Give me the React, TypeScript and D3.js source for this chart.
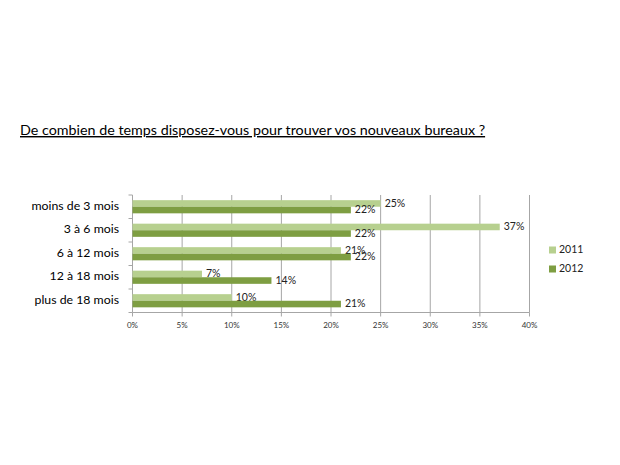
import * as React from 'react'
import * as d3 from 'd3'

const categories = ['moins de 3 mois', '3 à 6 mois', '6 à 12 mois', '12 à 18 mois', 'plus de 18 mois']
const series = ['2011', '2012']
const values2011 = [25, 37, 21, 7, 10]
const values2012 = [22, 22, 22, 14, 21]
const xTicks = [0, 5, 10, 15, 20, 25, 30, 35, 40]
const colors = ['#b7d08f', '#7e9e42']

const FONT = 'Lato, "Open Sans", sans-serif'

export default function App() {
    const W = 620
    const H = 465
    const left = 132.5
    const right = 529.5
    const top = 195
    const bottom = 312.5

    const x = d3.scaleLinear().domain([0, 40]).range([left, right])
    const y = d3.scaleBand().domain(categories).range([top, bottom]).paddingInner(0.44).paddingOuter(0.22)
    const ySeries = d3.scaleBand().domain(series).range([0, y.bandwidth()])
    const data = [values2011, values2012]

    return <svg width={W} height={H} viewBox={`0 0 ${W} ${H}`} style={{ position: 'absolute', left: 0, top: 0, background: '#fff' }} fontFamily={FONT}>
        <text x={20} y={135} fontSize={14.3} fill="#000" textDecoration="underline">De combien de temps disposez-vous pour trouver vos nouveaux bureaux ?</text>

        {/* gridlines */}
        {xTicks.slice(1).map(t =>
            <line key={t} x1={x(t)} x2={x(t)} y1={top} y2={bottom} stroke="#a6a6a6" strokeWidth={1} />
        )}
        {/* axes */}
        <line x1={left} x2={left} y1={top} y2={bottom} stroke="#a6a6a6" />
        <line x1={left} x2={right} y1={bottom} y2={bottom} stroke="#a6a6a6" />
        {xTicks.map(t =>
            <g key={t}>
                <line x1={x(t)} x2={x(t)} y1={bottom} y2={bottom + 4} stroke="#a6a6a6" />
                <text x={x(t)} y={bottom + 15} fontSize={8} textAnchor="middle" fill="#333">{t}%</text>
            </g>
        )}
        {d3.range(categories.length + 1).map(i => {
            const yy = top + i * (bottom - top) / categories.length
            return <line key={i} x1={left - 4} x2={left} y1={yy} y2={yy} stroke="#a6a6a6" />
        })}

        {/* category labels */}
        {categories.map(c =>
            <text key={c} x={119} y={(y(c) as number) + y.bandwidth() / 2} fontSize={12.3} textAnchor="end" dominantBaseline="middle" fill="#000">{c}</text>
        )}

        {/* bars */}
        {categories.map((c, i) =>
            <g key={c} transform={`translate(0 ${y(c)})`}>
                {series.map((s, j) =>
                    <g key={s}>
                        <rect x={left} y={ySeries(s) as number} width={x(data[j][i]) - left} height={ySeries.bandwidth()} fill={colors[j]} />
                        <text x={x(data[j][i]) + 4} y={(ySeries(s) as number) + ySeries.bandwidth() / 2 + 0.5} fontSize={10.5} dominantBaseline="middle" fill="#222">{data[j][i]}%</text>
                    </g>
                )}
            </g>
        )}

        {/* legend */}
        {series.map((s, j) =>
            <g key={s} transform={`translate(549 ${250 + j * 19})`}>
                <rect x={0} y={-3.5} width={7} height={7} fill={colors[j]} />
                <text x={10} y={0} fontSize={10.5} dominantBaseline="middle" fill="#222">{s}</text>
            </g>
        )}
    </svg>
}
